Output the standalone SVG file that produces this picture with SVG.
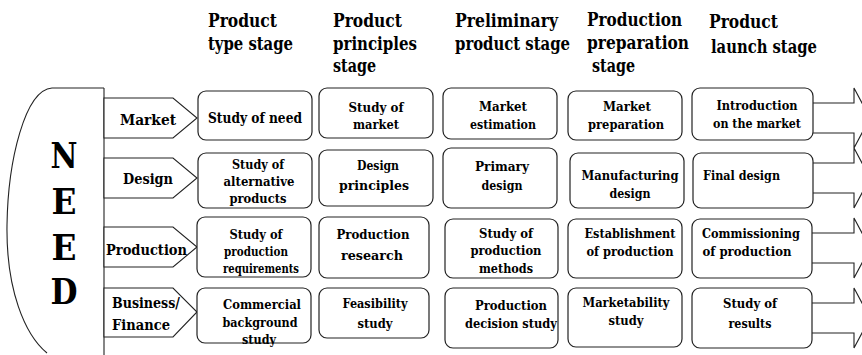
<svg xmlns="http://www.w3.org/2000/svg" width="862" height="355" viewBox="0 0 862 355">
  <style>
    text { font-family: "DejaVu Serif", serif; font-weight: bold; fill: #000; }
    .hdr text { font-size: 18.2px; }
    .lbl text { font-size: 15.5px; }
    .box text { font-size: 13.8px; text-anchor: middle; }
    .need text { font-size: 36px; text-anchor: middle; }
    .box rect { fill: #fff; stroke: #222; stroke-width: 1.2; }
    .tag polygon { fill: #fff; stroke: #222; stroke-width: 1.1; }
    .ln { fill: none; stroke: #222; stroke-width: 1.1; }
  </style>

  <!-- stage headings -->
  <g id="headers" class="hdr">
    <text x="208" y="27" textLength="69" lengthAdjust="spacingAndGlyphs">Product</text>
    <text x="208" y="50" textLength="85" lengthAdjust="spacingAndGlyphs">type stage</text>
    <text x="333" y="27" textLength="69" lengthAdjust="spacingAndGlyphs">Product</text>
    <text x="333" y="50" textLength="84" lengthAdjust="spacingAndGlyphs">principles</text>
    <text x="333" y="72" textLength="43" lengthAdjust="spacingAndGlyphs">stage</text>
    <text x="455" y="27" textLength="103" lengthAdjust="spacingAndGlyphs">Preliminary</text>
    <text x="455" y="50" textLength="115" lengthAdjust="spacingAndGlyphs">product stage</text>
    <text x="587" y="26" textLength="95" lengthAdjust="spacingAndGlyphs">Production</text>
    <text x="587" y="49" textLength="102" lengthAdjust="spacingAndGlyphs">preparation</text>
    <text x="592" y="72" textLength="43" lengthAdjust="spacingAndGlyphs">stage</text>
    <text x="709" y="28" textLength="69" lengthAdjust="spacingAndGlyphs">Product</text>
    <text x="711" y="53" textLength="106" lengthAdjust="spacingAndGlyphs">launch stage</text>
  </g>

  <!-- NEED bracket -->
  <g id="need" class="need">
    <path class="ln" d="M104,88 L52,88 C25,90 8,160 7,225 C6,290 25,335 47,353"/>
    <line class="ln" x1="104" y1="88" x2="104" y2="355"/>
    <text x="64" y="168" textLength="27" lengthAdjust="spacingAndGlyphs">N</text>
    <text x="64" y="214" textLength="25" lengthAdjust="spacingAndGlyphs">E</text>
    <text x="64" y="260" textLength="25" lengthAdjust="spacingAndGlyphs">E</text>
    <text x="64" y="304" textLength="27" lengthAdjust="spacingAndGlyphs">D</text>
  </g>

  <!-- area tags -->
  <g id="tag-market" class="tag lbl">
    <polygon points="104,98 173,98 197,118 173,138 104,138"/>
    <text x="120" y="125" textLength="56" lengthAdjust="spacingAndGlyphs">Market</text>
  </g>
  <g id="tag-design" class="tag lbl">
    <polygon points="104,158 173,158 197,178 173,198 104,198"/>
    <text x="123" y="184" textLength="50" lengthAdjust="spacingAndGlyphs">Design</text>
  </g>
  <g id="tag-production" class="tag lbl">
    <polygon points="104,227 173,227 197,247 173,267 104,267"/>
    <text x="106" y="255" textLength="81" lengthAdjust="spacingAndGlyphs">Production</text>
  </g>
  <g id="tag-business" class="tag lbl">
    <polygon points="104,288 173,288 197,312 173,337 104,337"/>
    <text x="112" y="308" textLength="68" lengthAdjust="spacingAndGlyphs">Business/</text>
    <text x="112" y="330" textLength="58" lengthAdjust="spacingAndGlyphs">Finance</text>
  </g>

  <!-- row 1: market -->
  <g id="m1" class="box">
    <rect x="198" y="91" width="114" height="49" rx="8"/>
    <text x="255" y="123" style="font-size:14.6px" textLength="94" lengthAdjust="spacingAndGlyphs">Study of need</text>
  </g>
  <g id="m2" class="box">
    <rect x="319" y="88" width="114" height="50" rx="8"/>
    <text x="376" y="112" textLength="55" lengthAdjust="spacingAndGlyphs">Study of</text>
    <text x="376" y="129" textLength="46" lengthAdjust="spacingAndGlyphs">market</text>
  </g>
  <g id="m3" class="box">
    <rect x="443" y="88" width="114" height="51" rx="8"/>
    <text x="503" y="111" textLength="48" lengthAdjust="spacingAndGlyphs">Market</text>
    <text x="503" y="129" textLength="66" lengthAdjust="spacingAndGlyphs">estimation</text>
  </g>
  <g id="m4" class="box">
    <rect x="568" y="91" width="114" height="49" rx="8"/>
    <text x="627" y="111" textLength="48" lengthAdjust="spacingAndGlyphs">Market</text>
    <text x="626" y="129" textLength="76" lengthAdjust="spacingAndGlyphs">preparation</text>
  </g>
  <g id="m5" class="box">
    <rect x="692" y="88" width="121" height="52" rx="8"/>
    <text x="757" y="110" textLength="81" lengthAdjust="spacingAndGlyphs">Introduction</text>
    <text x="757" y="128" textLength="88" lengthAdjust="spacingAndGlyphs">on the market</text>
  </g>

  <!-- row 2: design -->
  <g id="d1" class="box">
    <rect x="198" y="153" width="114" height="55" rx="8"/>
    <text x="258" y="169" textLength="52" lengthAdjust="spacingAndGlyphs">Study of</text>
    <text x="259" y="186" textLength="71" lengthAdjust="spacingAndGlyphs">alternative</text>
    <text x="258" y="203" textLength="57" lengthAdjust="spacingAndGlyphs">products</text>
  </g>
  <g id="d2" class="box">
    <rect x="319" y="150" width="114" height="56" rx="8"/>
    <text x="378" y="170" textLength="42" lengthAdjust="spacingAndGlyphs">Design</text>
    <text x="374" y="190" textLength="70" lengthAdjust="spacingAndGlyphs">principles</text>
  </g>
  <g id="d3" class="box">
    <rect x="443" y="148" width="114" height="60" rx="8"/>
    <text x="502" y="171" textLength="54" lengthAdjust="spacingAndGlyphs">Primary</text>
    <text x="502" y="190" textLength="41" lengthAdjust="spacingAndGlyphs">design</text>
  </g>
  <g id="d4" class="box">
    <rect x="570" y="153" width="114" height="55" rx="8"/>
    <text x="630" y="180" textLength="97" lengthAdjust="spacingAndGlyphs">Manufacturing</text>
    <text x="630" y="198" textLength="41" lengthAdjust="spacingAndGlyphs">design</text>
  </g>
  <g id="d5" class="box">
    <rect x="693" y="153" width="120" height="55" rx="8"/>
    <text x="703" y="180" style="text-anchor:start" textLength="77" lengthAdjust="spacingAndGlyphs">Final design</text>
  </g>

  <!-- row 3: production -->
  <g id="p1" class="box">
    <rect x="197" y="217" width="114" height="60" rx="8"/>
    <text x="256" y="239" textLength="53" lengthAdjust="spacingAndGlyphs">Study of</text>
    <text x="256" y="256" textLength="64" lengthAdjust="spacingAndGlyphs">production</text>
    <text x="261" y="273" textLength="76" lengthAdjust="spacingAndGlyphs">requirements</text>
  </g>
  <g id="p2" class="box">
    <rect x="319" y="217" width="110" height="61" rx="8"/>
    <text x="373" y="239" textLength="73" lengthAdjust="spacingAndGlyphs">Production</text>
    <text x="372" y="260" textLength="62" lengthAdjust="spacingAndGlyphs">research</text>
  </g>
  <g id="p3" class="box">
    <rect x="445" y="219" width="113" height="59" rx="8"/>
    <text x="506" y="238" textLength="54" lengthAdjust="spacingAndGlyphs">Study of</text>
    <text x="506" y="255" textLength="71" lengthAdjust="spacingAndGlyphs">production</text>
    <text x="506" y="273" textLength="54" lengthAdjust="spacingAndGlyphs">methods</text>
  </g>
  <g id="p4" class="box">
    <rect x="568" y="219" width="114" height="59" rx="8"/>
    <text x="630" y="238" textLength="91" lengthAdjust="spacingAndGlyphs">Establishment</text>
    <text x="630" y="256" textLength="87" lengthAdjust="spacingAndGlyphs">of production</text>
  </g>
  <g id="p5" class="box">
    <rect x="692" y="219" width="120" height="59" rx="8"/>
    <text x="751" y="238" textLength="98" lengthAdjust="spacingAndGlyphs">Commissioning</text>
    <text x="747" y="256" textLength="89" lengthAdjust="spacingAndGlyphs">of production</text>
  </g>

  <!-- row 4: business / finance -->
  <g id="b1" class="box">
    <rect x="197" y="288" width="114" height="55" rx="8"/>
    <text x="262" y="309" textLength="78" lengthAdjust="spacingAndGlyphs">Commercial</text>
    <text x="260" y="327" textLength="75" lengthAdjust="spacingAndGlyphs">background</text>
    <text x="259" y="344" textLength="34" lengthAdjust="spacingAndGlyphs">study</text>
  </g>
  <g id="b2" class="box">
    <rect x="319" y="288" width="110" height="50" rx="8"/>
    <text x="375" y="308" textLength="65" lengthAdjust="spacingAndGlyphs">Feasibility</text>
    <text x="375" y="328" textLength="35" lengthAdjust="spacingAndGlyphs">study</text>
  </g>
  <g id="b3" class="box">
    <rect x="445" y="288" width="113" height="60" rx="8"/>
    <text x="511" y="310" textLength="72" lengthAdjust="spacingAndGlyphs">Production</text>
    <text x="511" y="328" textLength="92" lengthAdjust="spacingAndGlyphs">decision study</text>
  </g>
  <g id="b4" class="box">
    <rect x="568" y="288" width="114" height="59" rx="8"/>
    <text x="626" y="307" textLength="87" lengthAdjust="spacingAndGlyphs">Marketability</text>
    <text x="626" y="325" textLength="35" lengthAdjust="spacingAndGlyphs">study</text>
  </g>
  <g id="b5" class="box">
    <rect x="692" y="288" width="120" height="60" rx="8"/>
    <text x="750" y="308" textLength="54" lengthAdjust="spacingAndGlyphs">Study of</text>
    <text x="750" y="328" textLength="43" lengthAdjust="spacingAndGlyphs">results</text>
  </g>

  <!-- outgoing block arrows on the right -->
  <g id="connectors" class="ln">
    <path d="M813,103 H854 V88 L870,118 L854,148 V133 H813"/>
    <path d="M813,163 H854 V148 L870,178 L854,208 V193 H813"/>
    <path d="M812,233 H854 V218 L870,248 L854,278 V263 H812"/>
    <path d="M812,303 H854 V288 L870,318 L854,348 V333 H812"/>
  </g>
</svg>
